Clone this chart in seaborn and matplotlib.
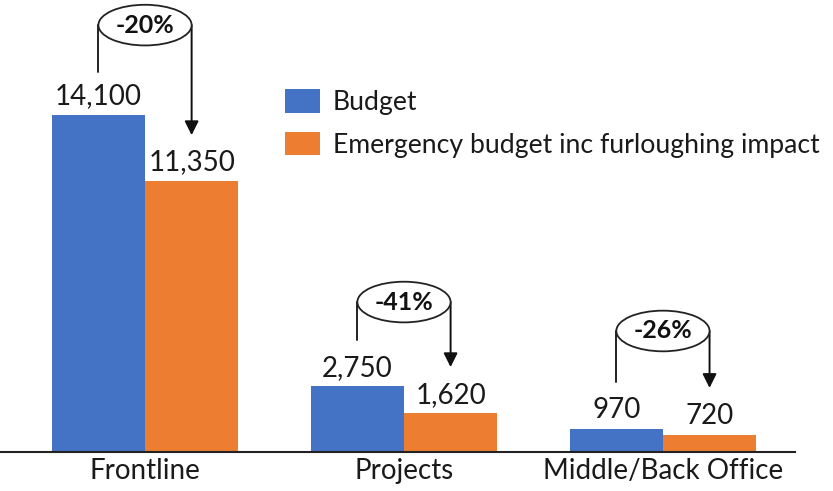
import matplotlib
matplotlib.use("Agg")
import matplotlib.pyplot as plt
from matplotlib.patches import Ellipse
import seaborn as sns
import pandas as pd

# Budget comparison by area
categories = ["Frontline", "Projects", "Middle/Back Office"]
budget = [14100, 2750, 970]
emergency = [11350, 1620, 720]
series_names = ["Budget", "Emergency budget inc furloughing impact"]
colors = ["#4472C4", "#ED7D31"]

# Vertical placement of the change callouts (ellipse centre, left stem end, arrow tip)
callout_centre = [17850, 6270, 5060]
stem_bottom = [15880, 4680, 2930]
arrow_tip = [13250, 3550, 2680]

sns.set_theme(style="white")
plt.rcParams["font.family"] = ["Lato", "DejaVu Sans"]

df = pd.DataFrame({
    "category": categories * 2,
    "value": budget + emergency,
    "series": [series_names[0]] * 3 + [series_names[1]] * 3,
})

fig = plt.figure(figsize=(8.33, 4.91), dpi=100)
ax = fig.add_axes([0.0, 39 / 491, 795 / 833, 452 / 491])

sns.barplot(data=df, x="category", y="value", hue="series", palette=colors,
            width=0.72, saturation=1, linewidth=0, ax=ax, legend=True)

ax.set_xlim(-0.56, 2.51)
ax.set_ylim(0, 18900)
ax.set_xlabel("")
ax.set_ylabel("")
ax.set_yticks([])
ax.tick_params(axis="x", length=0, labelsize=20, pad=4, labelcolor="#1a1a1a")
for side in ["left", "right", "top"]:
    ax.spines[side].set_visible(False)
ax.spines["bottom"].set_color("#222222")
ax.spines["bottom"].set_linewidth(1.5)

# Value labels above each bar
for cont in ax.containers:
    ax.bar_label(cont, labels=[f"{v:,.0f}" for v in cont.datavalues],
                 padding=4, fontsize=20, color="#1a1a1a")

half = 0.72 / 4
for i in range(len(categories)):
    xl, xr = i - half, i + half
    pct = round((emergency[i] / budget[i] - 1) * 100)
    cy = callout_centre[i]
    ax.add_patch(Ellipse((i, cy), width=2 * half, height=1700, facecolor="white",
                         edgecolor="#222222", linewidth=1.3, zorder=5))
    ax.text(i, cy, f"{pct}%", ha="center", va="center", fontsize=18,
            fontweight="bold", color="#111111", zorder=6)
    ax.plot([xl, xl], [cy, stem_bottom[i]], color="#222222", lw=1.4, zorder=4)
    ax.annotate("", xy=(xr, arrow_tip[i]), xytext=(xr, cy),
                arrowprops=dict(arrowstyle="-|>,head_length=0.7,head_width=0.35",
                                color="#111111", lw=1.4, shrinkA=0, shrinkB=0),
                zorder=4)

leg = ax.legend(loc="upper left", bbox_to_anchor=(285 / 833, 1 - 89 / 491),
                bbox_transform=fig.transFigure, frameon=False, fontsize=19.2,
                handlelength=1.3, handleheight=1.0, handletextpad=0.5,
                labelspacing=0.62, borderpad=0, borderaxespad=0)
for t in leg.get_texts():
    t.set_color("#1a1a1a")

fig.savefig("out.png", dpi=100, facecolor="white")
